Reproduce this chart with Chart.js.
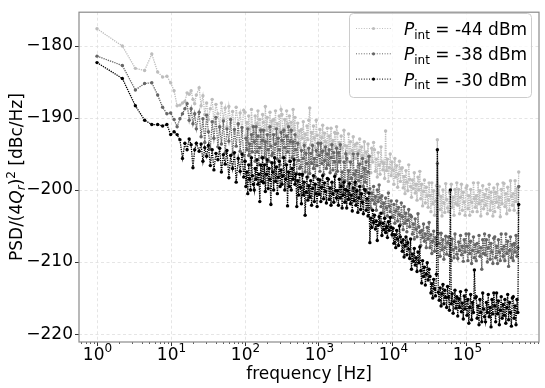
<!DOCTYPE html>
<html>
<head>
<meta charset="utf-8">
<script src="https://cdn.jsdelivr.net/npm/chart.js@4.4.1/dist/chart.umd.min.js"></script>
<style>
  html, body { margin: 0; padding: 0; background: #fff; }
  #wrap { width: 545px; height: 388px; }
</style>
</head>
<body>
<div id="wrap"><canvas id="psd"></canvas></div>
<script>
// frequency grid shared by the three traces [Hz]
const freqs = [
  1.0, 2.2, 3.3, 4.4, 5.5, 6.6, 7.7, 8.8, 9.9, 11, 12.1, 13.2, 14.3, 15.4, 16.5, 17.6, 18.7, 19.8, 20.9, 22,
  24, 25.5, 27, 28.6, 30.3, 32, 34, 36, 38, 40.5, 43, 45.5, 48, 51, 54, 57, 60.5, 64, 68, 72, 76, 81, 86, 91, 96,
  100, 102.9, 105.9, 109.0, 112.2, 115.5, 118.9, 122.3, 125.9, 129.6,
  133.4, 137.3, 141.3, 145.4, 149.6, 154.0, 158.5, 163.1, 167.9, 172.8,
  177.8, 183.0, 188.4, 193.9, 199.5, 205.4, 211.3, 217.5, 223.9, 230.4,
  237.1, 244.1, 251.2, 258.5, 266.1, 273.8, 281.8, 290.1, 298.5, 307.3,
  316.2, 325.5, 335.0, 344.8, 354.8, 365.2, 375.8, 386.8, 398.1, 409.7,
  421.7, 434.0, 446.7, 459.7, 473.2, 487.0, 501.2, 515.8, 530.9, 546.4,
  562.3, 578.8, 595.7, 613.1, 631.0, 649.4, 668.3, 687.9, 707.9, 728.6,
  749.9, 771.8, 794.3, 817.5, 841.4, 866.0, 891.3, 917.3, 944.1, 971.6,
  1000, 1029, 1059, 1090, 1122, 1155, 1189, 1223, 1259, 1296,
  1334, 1373, 1413, 1454, 1496, 1540, 1585, 1631, 1679, 1728,
  1778, 1830, 1884, 1939, 1995, 2054, 2113, 2175, 2239, 2304,
  2371, 2441, 2512, 2585, 2661, 2738, 2818, 2901, 2985, 3073,
  3162, 3255, 3350, 3448, 3548, 3652, 3758, 3868, 3981, 4097,
  4217, 4340, 4467, 4597, 4732, 4870, 5012, 5158, 5309, 5464,
  5623, 5788, 5957, 6131, 6310, 6494, 6683, 6879, 7079, 7286,
  7499, 7718, 7943, 8175, 8414, 8660, 8913, 9173, 9441, 9716,
  10000, 10290, 10590, 10900, 11220, 11550, 11890, 12230, 12590, 12960,
  13340, 13730, 14130, 14540, 14960, 15400, 15850, 16310, 16790, 17280,
  17780, 18300, 18840, 19390, 19950, 20540, 21130, 21750, 22390, 23040,
  23710, 24410, 25120, 25850, 26610, 27380, 28180, 29010, 29850, 30730,
  31620, 32550, 33500, 34480, 35480, 36520, 37580, 38680, 39810, 40970,
  42170, 43400, 44670, 45970, 47320, 48700, 50120, 51580, 53090, 54640,
  56230, 57880, 59570, 61310, 63100, 64940, 66830, 68790, 70790, 72860,
  74990, 77180, 79430, 81750, 84140, 86600, 89130, 91730, 94410, 97160,
  100000, 102900, 105900, 109000, 112200, 115500, 118900, 122300, 125900, 129600,
  133400, 137300, 141300, 145400, 149600, 154000, 158500, 163100, 167900, 172800,
  177800, 183000, 188400, 193900, 199500, 205400, 211300, 217500, 223900, 230400,
  237100, 244100, 251200, 258500, 266100, 273800, 281800, 290100, 298500, 307300,
  316200, 325500, 335000, 344800, 354800, 365200, 375800, 386800, 398100, 409700,
  421700, 434000, 446700, 459700, 473200, 487000, 500000
];

// PSD/(4Qr)^2 [dBc/Hz], P_int = -44 dBm
const psd44 = [
  -177.6, -180.0, -183.1, -183.4, -181.1, -183.6, -184.3, -184.2, -185.1, -186.2, -188.3, -188.2, -187.9, -187.7, -186.5, -186.7, -186.2, -187.4, -188.0, -186.8,
  -185.8, -188.3, -186.9, -189.5, -187.9, -190.2, -188.7, -187.4, -190.6, -188.1, -189.4, -191.3, -187.9, -190.1, -188.6, -191.2, -188.4, -190.7, -189.1, -192.0, -188.5, -190.9, -189.3, -191.8, -188.9,
  -189.2, -192.4, -190.6, -193.3, -189.7, -191.5, -192.9, -188.8, -191.1, -192.2,
  -192.0, -189.7, -193.1, -190.8, -189.0, -192.6, -190.2, -191.5, -193.3, -189.5,
  -190.6, -192.9, -188.4, -191.7, -189.9, -193.3, -191.3, -189.2, -192.4, -190.4,
  -192.9, -190.2, -191.5, -189.0, -192.2, -190.8, -193.3, -189.7, -191.7, -188.8,
  -189.5, -193.3, -191.5, -190.2, -192.6, -189.0, -190.8, -193.1, -189.7, -192.0,
  -190.6, -192.9, -188.8, -191.7, -189.9, -193.3, -192.6, -190.7, -193.7, -191.8,
  -194.1, -191.6, -192.8, -190.5, -193.5, -192.2, -194.5, -191.1, -193.0, -190.3,
  -188.6, -193.7, -192.0, -194.5, -191.1, -192.8, -194.1, -190.3, -192.4, -193.5,
  -193.7, -191.6, -194.8, -192.7, -191.0, -194.4, -192.1, -193.3, -195.0, -191.4,
  -195.0, -192.5, -193.7, -191.4, -194.4, -193.1, -195.4, -192.0, -193.9, -191.2,
  -192.1, -195.1, -193.4, -195.9, -192.5, -194.2, -195.5, -191.7, -193.8, -194.9,
  -193.9, -196.0, -192.2, -194.9, -193.3, -196.4, -194.5, -192.6, -195.6, -193.7,
  -195.6, -193.5, -196.7, -194.6, -192.9, -196.3, -194.0, -195.2, -196.9, -193.3,
  -197.2, -194.7, -195.9, -193.6, -196.6, -195.3, -197.6, -194.2, -196.1, -193.4,
  -194.4, -197.4, -195.7, -198.2, -194.8, -196.5, -197.8, -194.0, -196.1, -197.2,
  -196.3, -198.4, -191.8, -197.3, -195.7, -198.8, -196.9, -195.0, -198.0, -196.1,
  -197.2, -199.2, -195.6, -198.2, -196.6, -199.6, -197.8, -196.0, -198.8, -197.0,
  -196.9, -199.7, -198.1, -200.5, -197.3, -198.9, -200.1, -196.5, -198.5, -199.5,
  -201.0, -198.6, -199.8, -197.6, -200.4, -199.2, -201.4, -198.2, -200.0, -197.4,
  -201.2, -199.2, -202.2, -200.2, -198.6, -201.8, -199.6, -200.8, -202.4, -199.0,
  -200.8, -203.0, -199.0, -201.9, -200.1, -203.5, -201.5, -199.4, -193.0, -200.6,
  -199.5, -202.7, -200.9, -203.6, -200.0, -201.8, -203.1, -199.1, -201.3, -202.5,
  -203.0, -200.3, -201.7, -199.2, -202.4, -201.0, -203.5, -199.9, -201.9, -199.0,
  -202.1, -199.9, -203.3, -201.0, -199.2, -202.8, -200.3, -201.7, -203.5, -199.7,
  -199.4, -202.6, -200.8, -203.5, -199.9, -201.7, -203.0, -199.0, -201.2, -202.4,
  -200.8, -203.0, -199.0, -201.9, -200.1, -203.6, -201.5, -199.4, -202.6, -200.6,
  -202.1, -199.9, -203.3, -201.0, -199.2, -202.8, -200.3, -201.7, -203.6, -199.7,
  -203.0, -200.3, -201.7, -199.2, -202.4, -201.0, -203.7, -199.9, -201.9, -199.0,
  -199.1, -202.3, -200.5, -203.3, -199.6, -201.4, -202.8, -198.7, -200.9, -202.1,
  -200.5, -202.8, -198.7, -201.6, -199.8, -203.2, -197.5
];

// P_int = -38 dBm
const psd38 = [
  -181.4, -182.7, -186.1, -185.2, -185.1, -186.8, -188.5, -189.4, -189.3, -190.2, -191.2, -190.1, -189.4, -188.7, -188.0, -190.3, -188.7, -190.8, -189.4, -191.5,
  -189.2, -192.6, -190.1, -193.4, -189.6, -191.9, -194.3, -190.5, -192.8, -189.9, -194.0, -191.2, -193.6, -190.4, -194.8, -191.5, -193.2, -190.2, -195.0, -191.6, -193.9, -190.8, -194.6, -191.3, -195.2,
  -196.0, -192.8, -194.4, -191.5, -195.2, -193.6, -196.5, -192.3, -194.7, -191.2,
  -193.3, -196.0, -191.2, -194.7, -192.5, -196.5, -194.1, -191.7, -195.5, -193.1,
  -191.7, -195.5, -193.3, -196.5, -192.3, -194.4, -196.0, -191.2, -193.9, -195.2,
  -194.9, -192.3, -196.2, -193.6, -191.5, -195.7, -192.8, -194.4, -196.5, -192.0,
  -193.1, -195.5, -191.7, -194.1, -196.5, -192.5, -194.7, -191.2, -196.0, -193.3,
  -191.7, -195.5, -193.3, -196.5, -192.3, -194.4, -197.7, -193.5, -195.9, -197.0,
  -196.8, -194.5, -198.0, -195.6, -193.8, -197.5, -194.9, -196.3, -198.2, -194.2,
  -197.7, -194.9, -196.3, -193.8, -197.0, -195.6, -198.2, -194.5, -196.6, -193.5,
  -195.2, -197.4, -193.5, -196.3, -194.6, -197.8, -195.9, -194.0, -197.0, -195.0,
  -196.5, -194.4, -197.6, -195.5, -193.7, -197.2, -194.8, -196.1, -197.8, -194.2,
  -197.4, -194.8, -196.1, -193.7, -199.2, -197.5, -200.6, -196.1, -198.7, -195.0,
  -195.6, -199.5, -197.3, -200.6, -196.1, -198.4, -200.1, -195.0, -197.8, -199.2,
  -197.3, -200.1, -195.0, -198.7, -196.4, -200.6, -198.1, -195.6, -199.5, -197.0,
  -198.9, -196.1, -200.3, -197.5, -195.3, -199.8, -202.5, -200.4, -201.4, -199.5,
  -201.9, -200.9, -202.8, -200.0, -201.6, -199.3, -201.1, -202.3, -200.8, -203.2,
  -201.8, -203.9, -201.1, -202.5, -203.6, -200.4, -202.2, -203.0, -201.5, -203.7,
  -203.8, -202.0, -204.6, -202.9, -201.5, -204.3, -202.4, -203.4, -204.8, -201.8,
  -203.7, -205.5, -202.3, -204.6, -203.2, -205.8, -204.2, -202.7, -205.1, -203.5,
  -203.7, -206.1, -204.7, -206.8, -204.0, -205.4, -206.5, -203.3, -205.1, -205.9,
  -207.7, -205.6, -206.6, -204.7, -207.1, -206.1, -208.0, -205.2, -206.8, -204.5,
  -208.0, -206.2, -208.8, -207.1, -205.7, -208.5, -206.6, -207.6, -196.3, -206.0,
  -207.4, -209.2, -206.0, -208.3, -206.9, -209.6, -208.0, -206.4, -208.9, -207.3,
  -206.5, -209.1, -207.6, -209.8, -206.8, -208.3, -209.4, -206.1, -208.0, -208.9,
  -209.5, -207.2, -208.4, -206.3, -209.0, -207.8, -209.9, -206.9, -208.6, -206.1,
  -207.8, -209.8, -206.1, -208.8, -207.1, -210.2, -208.4, -206.5, -209.4, -207.6,
  -209.8, -207.4, -208.6, -206.3, -209.2, -208.0, -211.0, -206.9, -208.8, -206.1,
  -209.0, -206.9, -210.0, -208.0, -206.3, -209.6, -207.4, -208.6, -210.2, -206.7,
  -206.5, -209.4, -207.8, -210.2, -206.9, -208.6, -209.8, -206.1, -208.2, -209.2,
  -207.8, -209.8, -206.1, -208.8, -207.1, -210.6, -208.4, -206.5, -209.4, -207.6,
  -209.8, -207.4, -208.6, -206.3, -209.2, -208.0, -199.5
];

// P_int = -30 dBm
const psd30 = [
  -182.3, -184.5, -188.3, -190.3, -190.9, -190.9, -191.1, -190.9, -192.3, -191.9, -192.3, -193.0, -195.6, -193.5, -194.4, -192.9, -193.7, -196.9, -194.4, -193.5,
  -194.6, -193.6, -196.0, -194.1, -195.3, -193.8, -196.6, -194.4, -197.2, -194.9, -195.8, -194.2, -197.5, -195.1, -196.4, -194.5, -198.3, -195.2, -197.0, -194.8, -198.9, -195.6, -197.4, -195.0, -198.2,
  -196.0, -199.5, -197.5, -200.5, -196.5, -198.5, -200.0, -195.5, -198.0, -199.2,
  -200.0, -197.0, -198.5, -195.8, -199.2, -197.8, -201.6, -196.5, -198.8, -195.5,
  -199.0, -196.5, -200.2, -197.8, -195.8, -199.8, -197.0, -198.5, -202.0, -196.2,
  -197.5, -200.0, -195.5, -198.8, -196.8, -200.5, -198.2, -196.0, -199.5, -197.2,
  -199.2, -198.0, -195.5, -200.0, -198.5, -196.5, -202.2, -197.5, -199.5, -196.0,
  -200.0, -197.0, -198.5, -195.8, -199.2, -197.8, -202.3, -198.7, -200.7, -197.8,
  -199.6, -201.9, -197.8, -200.7, -198.9, -203.5, -200.3, -198.2, -201.4, -199.4,
  -201.0, -198.7, -202.1, -199.8, -198.0, -201.6, -199.2, -200.5, -202.3, -198.5,
  -200.6, -198.6, -201.6, -199.6, -198.0, -201.2, -199.0, -200.2, -201.8, -198.4,
  -198.5, -201.3, -199.7, -202.1, -198.9, -200.5, -201.7, -198.1, -200.1, -201.1,
  -200.1, -202.1, -198.5, -201.1, -199.5, -202.5, -200.7, -198.9, -201.7, -199.9,
  -202.5, -200.1, -201.3, -199.1, -201.9, -200.7, -202.9, -199.7, -201.5, -198.9,
  -202.1, -200.1, -203.1, -201.1, -199.5, -202.7, -200.5, -201.7, -203.3, -199.9,
  -200.0, -202.8, -201.2, -203.6, -200.4, -207.3, -203.9, -205.2, -202.8, -204.5,
  -203.5, -205.4, -204.3, -207.0, -204.9, -203.7, -204.6, -203.2, -206.3, -204.6,
  -205.5, -203.9, -205.9, -205.1, -206.6, -204.4, -205.6, -203.8, -205.2, -206.2,
  -205.3, -207.4, -206.2, -208.0, -205.6, -206.8, -207.7, -205.0, -206.5, -207.2,
  -208.5, -206.9, -209.3, -207.7, -206.5, -209.0, -207.3, -208.2, -209.5, -206.8,
  -211.0, -208.9, -209.9, -208.1, -210.4, -209.4, -211.3, -208.6, -210.1, -207.9,
  -211.2, -212.9, -209.8, -212.0, -210.7, -213.2, -211.7, -210.1, -212.5, -211.0,
  -212.0, -214.3, -213.0, -215.0, -212.4, -213.7, -214.7, -211.7, -194.4, -214.2,
  -215.3, -213.6, -216.1, -214.4, -213.1, -215.8, -213.9, -214.9, -216.3, -213.4,
  -214.9, -216.7, -200.0, -215.8, -214.4, -217.1, -215.5, -213.9, -216.4, -214.8,
  -217.5, -215.1, -216.3, -214.1, -216.9, -215.7, -217.9, -214.7, -216.5, -213.9,
  -217.4, -215.2, -218.5, -216.3, -214.5, -218.0, -215.6, -217.0, -211.1, -215.0,
  -214.8, -217.8, -216.1, -218.7, -215.2, -217.0, -218.3, -214.3, -216.5, -217.6,
  -218.3, -215.6, -217.0, -214.5, -217.6, -216.3, -219.0, -215.2, -217.2, -214.3,
  -216.1, -218.3, -214.3, -217.2, -215.4, -218.7, -216.7, -214.8, -217.8, -215.9,
  -217.4, -215.2, -218.5, -216.3, -214.5, -218.0, -215.6, -217.0, -218.9, -215.0,
  -214.8, -217.8, -216.1, -218.7, -215.2, -217.0, -202.0
];

const seriesLabels = ['-44 dBm', '-38 dBm', '-30 dBm'];
const seriesColors = ['#bdbdbd', '#666666', '#000000'];
const xMajorTicks = [1, 10, 100, 1e3, 1e4, 1e5];
const xTickExps = ['0', '1', '2', '3', '4', '5'];
const yTicks = [-220, -210, -200, -190, -180];

const FONT = '"DejaVu Sans", sans-serif';
const GRID = '#dedede';
const FRAME = '#8a8a8a';

Chart.defaults.font.family = FONT;
Chart.defaults.color = '#000';

// draws a run of text pieces (italic / sub / superscript) left to right
function drawParts(ctx, parts, x, y, measureOnly) {
  let cx = x;
  parts.forEach(p => {
    ctx.font = `${p.i ? 'italic ' : ''}${p.s}px ${FONT}`;
    if (!measureOnly) ctx.fillText(p.t, cx, y + (p.dy || 0));
    cx += ctx.measureText(p.t).width;
  });
  return cx - x;
}

const makeSet = (label, values, color, order) => ({
  label,
  data: values.map((v, i) => ({ x: freqs[i], y: v })),
  borderColor: color,
  backgroundColor: color,
  borderWidth: 1.3,
  borderDash: [1.3, 1],
  pointRadius: 1.7,
  pointBorderWidth: 0,
  pointHoverRadius: 0,
  tension: 0,
  order
});

const decorPlugin = {
  id: 'decor',
  afterDraw(chart) {
    const { ctx, chartArea: a, scales } = chart;
    const sx = scales.x;
    ctx.save();

    // minor ticks on log axis
    ctx.strokeStyle = '#333';
    ctx.lineWidth = 0.8;
    for (let e = -1; e <= 5; e++) {
      for (let m = 2; m <= 9; m++) {
        const v = m * Math.pow(10, e);
        if (v < sx.min || v > sx.max) continue;
        const px = Math.round(sx.getPixelForValue(v)) + 0.5;
        ctx.beginPath();
        ctx.moveTo(px, a.bottom);
        ctx.lineTo(px, a.bottom + 2);
        ctx.stroke();
      }
    }

    // x tick labels 10^n
    ctx.fillStyle = '#000';
    ctx.textAlign = 'left';
    ctx.textBaseline = 'alphabetic';
    xMajorTicks.forEach((v, k) => {
      const parts = [{ t: '10', s: 17 }, { t: xTickExps[k], s: 12, dy: -8.3 }];
      const w = drawParts(ctx, parts, 0, 0, true);
      drawParts(ctx, parts, sx.getPixelForValue(v) - w / 2 + 0.5, 360);
    });

    // axes frame
    ctx.strokeStyle = FRAME;
    ctx.lineWidth = 1.2;
    ctx.strokeRect(a.left, a.top, a.right - a.left, a.bottom - a.top);

    // legend
    const lx = 349, ly = 13, lw = 182, lh = 84;
    ctx.beginPath();
    ctx.roundRect(lx + 0.5, ly + 0.5, lw, lh, 4);
    ctx.fillStyle = 'rgba(255,255,255,0.8)';
    ctx.fill();
    ctx.strokeStyle = '#cccccc';
    ctx.lineWidth = 1;
    ctx.stroke();

    seriesLabels.forEach((lab, k) => {
      const base = 35 + k * 25.3;
      const yl = base - 6.5;
      ctx.strokeStyle = seriesColors[k];
      ctx.fillStyle = seriesColors[k];
      ctx.lineWidth = 1;
      ctx.setLineDash([1, 1.6]);
      ctx.beginPath();
      ctx.moveTo(356, yl);
      ctx.lineTo(391, yl);
      ctx.stroke();
      ctx.setLineDash([]);
      ctx.beginPath();
      ctx.arc(373.5, yl, 1.6, 0, Math.PI * 2);
      ctx.fill();

      ctx.fillStyle = '#000';
      drawParts(ctx, [
        { t: 'P', s: 17, i: true },
        { t: 'int', s: 12, dy: 3.5 },
        { t: ' = ' + lab, s: 17 }
      ], 404, base);
    });

    // y axis title
    const yParts = [
      { t: 'PSD/(4', s: 17 },
      { t: 'Q', s: 17, i: true },
      { t: 'r', s: 12, i: true, dy: 3.5 },
      { t: ')', s: 17 },
      { t: '2', s: 12, dy: -7 },
      { t: ' [dBc/Hz]', s: 17 }
    ];
    ctx.fillStyle = '#000';
    const w = drawParts(ctx, yParts, 0, 0, true);
    ctx.translate(21.5, (a.top + a.bottom) / 2);
    ctx.rotate(-Math.PI / 2);
    drawParts(ctx, yParts, -w / 2, 0);

    ctx.restore();
  }
};

new Chart(document.getElementById('psd'), {
  type: 'line',
  data: {
    datasets: [
      makeSet('P_int = -44 dBm', psd44, seriesColors[0], 3),
      makeSet('P_int = -38 dBm', psd38, seriesColors[1], 2),
      makeSet('P_int = -30 dBm', psd30, seriesColors[2], 1)
    ]
  },
  options: {
    responsive: true,
    maintainAspectRatio: false,
    animation: false,
    events: [],
    layout: { padding: { top: 4, right: 6, left: 0, bottom: 0 } },
    plugins: { legend: { display: false }, tooltip: { enabled: false } },
    scales: {
      x: {
        type: 'logarithmic',
        min: 0.571,
        max: 9.4e5,
        afterBuildTicks: s => { s.ticks = xMajorTicks.map(v => ({ value: v })); },
        afterFit: s => { s.height = 46; },
        ticks: { display: false, autoSkip: false, maxRotation: 0 },
        grid: { color: GRID, lineWidth: 0.8, tickLength: 4, tickColor: '#333', tickWidth: 1 },
        border: { display: false, dash: [3, 2.5] },
        title: {
          display: true,
          text: 'frequency [Hz]',
          font: { size: 17 },
          color: '#000',
          padding: { top: 0, bottom: 3 }
        }
      },
      y: {
        type: 'linear',
        min: -221.1,
        max: -175.3,
        afterBuildTicks: s => { s.ticks = yTicks.map(v => ({ value: v })); },
        afterFit: s => { s.width = 79; },
        ticks: {
          padding: 2,
          font: { size: 17 },
          color: '#000',
          callback: v => '\u2212' + Math.abs(v)
        },
        grid: { color: GRID, lineWidth: 0.8, tickLength: 4, tickColor: '#333', tickWidth: 1 },
        border: { display: false, dash: [3, 2.5] }
      }
    }
  },
  plugins: [decorPlugin]
});
</script>
</body>
</html>
